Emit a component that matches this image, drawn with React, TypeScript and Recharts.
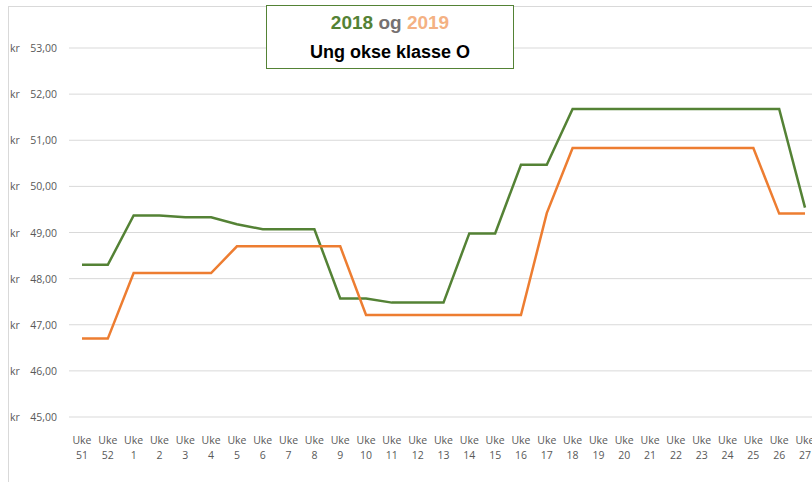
import React from 'react'
import { LineChart, Line, XAxis, YAxis, CartesianGrid } from 'recharts'

// Weeks from uke 51 (2018/2019) to uke 27
const weeks = ['51', '52', '1', '2', '3', '4', '5', '6', '7', '8', '9', '10', '11', '12', '13', '14', '15', '16', '17', '18', '19', '20', '21', '22', '23', '24', '25', '26', '27']

const price2018 = [48.3, 48.3, 49.37, 49.37, 49.33, 49.33, 49.18, 49.07, 49.07, 49.07, 47.57, 47.57, 47.48, 47.48, 47.48, 48.98, 48.98, 50.47, 50.47, 51.68, 51.68, 51.68, 51.68, 51.68, 51.68, 51.68, 51.68, 51.68, 49.54]
const price2019 = [46.7, 46.7, 48.12, 48.12, 48.12, 48.12, 48.7, 48.7, 48.7, 48.7, 48.7, 47.21, 47.21, 47.21, 47.21, 47.21, 47.21, 47.21, 49.42, 50.83, 50.83, 50.83, 50.83, 50.83, 50.83, 50.83, 50.83, 49.41, 49.41]

const yTicks = [45, 46, 47, 48, 49, 50, 51, 52, 53]

const GREEN = '#548235'
const ORANGE = '#ED7D31'
const TEXT = '#595959'
const FONT = '"Open Sans", "Noto Sans", sans-serif'

const data = weeks.map((w, i) => ({
  week: w,
  y2018: price2018[i],
  y2019: price2019[i],
}))

const YTick = (props: any) => {
  const { y, payload } = props
  const num = payload.value.toFixed(2).replace('.', ',')
  return (
    <g>
      <text x={10} y={y} dy={4} fontSize={10.5} fill={TEXT} fontFamily={FONT}>kr</text>
      <text x={57} y={y} dy={4} fontSize={10.5} fill={TEXT} fontFamily={FONT} textAnchor="end">{num}</text>
    </g>
  )
}

const XTick = (props: any) => {
  const { x, y, payload } = props
  return (
    <text x={x} y={y} fontSize={10.5} fill={TEXT} fontFamily={FONT} textAnchor="middle">
      <tspan x={x} dy={19}>Uke</tspan>
      <tspan x={x} dy={15}>{payload.value}</tspan>
    </text>
  )
}

export default function App() {
  return (
    <div style={{ position: 'fixed', left: 0, top: 0, width: 812, height: 482, overflow: 'hidden', background: '#fff' }}>
      {/* chart area border */}
      <div style={{ position: 'absolute', left: 8, top: 6, width: 900, height: 600, borderLeft: '1px solid #D9D9D9', borderTop: '1px solid #D9D9D9' }} />
      <LineChart width={830} height={482} data={data} margin={{ top: 48, right: 12, bottom: 0, left: 0 }}>
        <CartesianGrid vertical={false} stroke="#D9D9D9" strokeWidth={1} />
        <XAxis dataKey="week" height={65} axisLine={false} tickLine={false} tick={<XTick />} interval={0} padding={{ left: 13, right: 13 }} />
        <YAxis width={69} domain={[45, 53]} ticks={yTicks} axisLine={false} tickLine={false} tick={<YTick />} />
        <Line dataKey="y2018" stroke={GREEN} strokeWidth={2.5} dot={false} type="linear" isAnimationActive={false} />
        <Line dataKey="y2019" stroke={ORANGE} strokeWidth={2.5} dot={false} type="linear" isAnimationActive={false} />
      </LineChart>
      <div
        style={{
          position: 'absolute',
          left: 266,
          top: 5,
          width: 246,
          height: 62,
          border: `1px solid ${GREEN}`,
          background: '#fff',
          textAlign: 'center',
          fontFamily: '"Liberation Sans", Arial, sans-serif',
          fontWeight: 'bold',
        }}
      >
        <div style={{ fontSize: 19, marginTop: 6, lineHeight: '22px' }}>
          <span style={{ color: GREEN }}>2018</span>
          <span style={{ color: '#767171' }}> og </span>
          <span style={{ color: '#F4B183' }}>2019</span>
        </div>
        <div style={{ fontSize: 18, color: '#000', lineHeight: '24px', marginTop: 6 }}>Ung okse klasse O</div>
      </div>
    </div>
  )
}
